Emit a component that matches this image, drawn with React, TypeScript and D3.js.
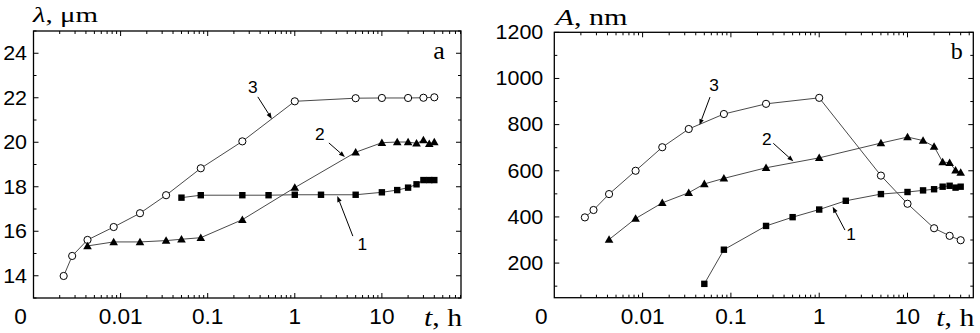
import React from "react";
import * as d3 from "d3";

// ---------- data ----------
const tCircle = [0.00222, 0.00278, 0.00417, 0.00833, 0.0167, 0.0333, 0.0833, 0.25, 1, 5, 10, 20, 30, 40];
const tTri = [0.00417, 0.00833, 0.0167, 0.0333, 0.05, 0.0833, 0.25, 1, 5, 10, 15, 20, 25, 30, 35, 40];
const tSq = [0.05, 0.0833, 0.25, 0.5, 1, 2, 5, 10, 15, 20, 25, 30, 35, 40];

const lambda3 = [13.99, 14.89, 15.61, 16.19, 16.81, 17.62, 18.83, 20.04, 21.84, 21.98, 21.99, 21.99, 22.0, 22.02];
const lambda2 = [15.34, 15.52, 15.52, 15.58, 15.64, 15.71, 16.52, 17.96, 19.55, 19.98, 20.01, 20.01, 19.95, 20.1, 19.93, 20.01];
const lambda1 = [17.51, 17.62, 17.62, 17.62, 17.64, 17.64, 17.64, 17.75, 17.85, 17.96, 18.11, 18.3, 18.3, 18.3];

const amp3 = [398, 430, 499, 600, 702, 781, 846, 890, 916, 579, 457, 351, 318, 299];
const amp2 = [302, 393, 461, 505, 543, 567, 613, 656, 720, 746, 731, 705, 638, 635, 602, 592];
const amp1 = [110, 258, 361, 399, 432, 470, 499, 508, 515, 520, 531, 535, 527, 531];

const xMajorTicks = [0.01, 0.1, 1, 10];
const xMajorLabels = ["0.01", "0.1", "1", "10"];
const lambdaTicks = [14, 16, 18, 20, 22, 24];
const lambdaMinor = [13, 15, 17, 19, 21, 23, 25];
const ampTicks = [200, 400, 600, 800, 1000, 1200];
const ampMinor = [100, 300, 500, 700, 900, 1100];

// annotation anchors on the curves (data coords)
const lambdaNotes = [
  { label: "3", t: 0.545, v: 21.05 },
  { label: "2", t: 3.76, v: 19.34 },
  { label: "1", t: 3.08, v: 17.58 },
];
const ampNotes = [
  { label: "3", t: 0.0441, v: 798 },
  { label: "2", t: 0.509, v: 641 },
  { label: "1", t: 1.42, v: 444 },
];

// ---------- styling ----------
const SANS = "'Liberation Sans', Arial, Helvetica, sans-serif";
const SERIF = "'Liberation Serif', 'Times New Roman', serif";
const LINE = "#4a4a4a";

type Series = { t: number[]; v: number[]; marker: "circle" | "tri" | "sq" };
type Note = { label: string; t: number; v: number };
type Off = { text: [number, number]; tail: [number, number] };

function Marker({ x, y, kind }: { x: number; y: number; kind: string }) {
  if (kind === "circle")
    return <circle cx={x} cy={y} r={3.6} fill="#fff" stroke="#000" strokeWidth={1} />;
  if (kind === "sq") return <rect x={x - 3.2} y={y - 3.2} width={6.4} height={6.4} fill="#000" />;
  const s = 4.3;
  return <path d={`M${x},${y - s}L${x + s},${y + s * 0.75}L${x - s},${y + s * 0.75}Z`} fill="#000" />;
}

function SText(props: {
  x: number; y: number; sx?: number; size: number; family: string; anchor?: string; children: any;
}) {
  const { x, y, sx = 1, size, family, anchor = "start", children } = props;
  return (
    <text
      transform={`translate(${x},${y}) scale(${sx},1)`}
      fontSize={size}
      fontFamily={family}
      textAnchor={anchor as any}
      fill="#000"
    >
      {children}
    </text>
  );
}

function Panel(props: {
  left: number; right: number; top: number; bottom: number;
  xMax: number; yDomain: [number, number];
  yTicks: number[]; yMinor: number[]; yLabelGap: number;
  series: Series[]; notes: Note[]; offsets: Off[];
  title: any; titleLen: number; titleSize: number; titleX: number; titleY: number;
  letter: string; letterX: number; letterSize: number;
}) {
  const p = props;
  const x = d3.scaleLog().domain([0.001, p.xMax]).range([p.left, p.right]);
  const y = d3.scaleLinear().domain(p.yDomain).range([p.bottom, p.top]);
  const minorX: number[] = [];
  for (let e = -3; e <= 2; e++)
    for (let m = 2; m <= 9; m++) {
      const v = m * Math.pow(10, e);
      if (v < p.xMax) minorX.push(v);
    }
  const line = d3
    .line<[number, number]>()
    .x((d) => x(d[0]))
    .y((d) => y(d[1]));
  const MAJ = 5, MIN = 3;
  return (
    <g>
      {p.series.map((s, i) => (
        <path
          key={"l" + i}
          d={line(s.t.map((t, j) => [t, s.v[j]] as [number, number])) || ""}
          fill="none"
          stroke={LINE}
          strokeWidth={1}
        />
      ))}
      {p.series.map((s, i) =>
        s.t.map((t, j) => <Marker key={`m${i}-${j}`} x={x(t)} y={y(s.v[j])} kind={s.marker} />)
      )}
      <rect
        x={p.left}
        y={p.top}
        width={p.right - p.left}
        height={p.bottom - p.top}
        fill="none"
        stroke="#000"
        strokeWidth={1.3}
      />
      {xMajorTicks.map((t) => (
        <g key={"xt" + t}>
          <line x1={x(t)} x2={x(t)} y1={p.bottom} y2={p.bottom - MAJ} stroke="#000" />
          <line x1={x(t)} x2={x(t)} y1={p.top} y2={p.top + MAJ} stroke="#000" />
        </g>
      ))}
      {minorX.map((t) => (
        <g key={"xm" + t}>
          <line x1={x(t)} x2={x(t)} y1={p.bottom} y2={p.bottom - MIN} stroke="#000" />
          <line x1={x(t)} x2={x(t)} y1={p.top} y2={p.top + MIN} stroke="#000" />
        </g>
      ))}
      {p.yTicks.map((v) => (
        <g key={"yt" + v}>
          <line x1={p.left} x2={p.left + MAJ} y1={y(v)} y2={y(v)} stroke="#000" />
          <line x1={p.right} x2={p.right - MAJ} y1={y(v)} y2={y(v)} stroke="#000" />
        </g>
      ))}
      {p.yMinor.map((v) => (
        <g key={"ym" + v}>
          <line x1={p.left} x2={p.left + MIN} y1={y(v)} y2={y(v)} stroke="#000" />
          <line x1={p.right} x2={p.right - MIN} y1={y(v)} y2={y(v)} stroke="#000" />
        </g>
      ))}
      {p.yTicks.map((v) => (
        <SText key={"yl" + v} x={p.left - p.yLabelGap} y={y(v) + 6.8} sx={1.1} size={19.5} family={SANS} anchor="end">
          {String(v)}
        </SText>
      ))}
      <SText x={x(0.001) - 13} y={324} sx={1.05} size={21.5} family={SANS} anchor="middle">
        0
      </SText>
      {xMajorTicks.map((t, i) => (
        <SText key={"xl" + t} x={x(t)} y={324} sx={1.05} size={21.5} family={SANS} anchor="middle">
          {xMajorLabels[i]}
        </SText>
      ))}
      <text
        x={p.right + 1}
        y={326}
        fontSize={26}
        fontFamily={SERIF}
        textAnchor="end"
        textLength={38}
        lengthAdjust="spacingAndGlyphs"
      >
        <tspan fontStyle="italic">t</tspan>, h
      </text>
      <text
        x={p.titleX}
        y={p.titleY}
        fontSize={p.titleSize}
        fontFamily={SERIF}
        textLength={p.titleLen}
        lengthAdjust="spacingAndGlyphs"
      >
        {p.title}
      </text>
      <SText x={p.letterX} y={58.5} size={p.letterSize} family={SERIF} anchor="middle">
        {p.letter}
      </SText>
      {p.notes.map((n, i) => {
        const tx = x(n.t), ty = y(n.v);
        const o = p.offsets[i];
        const sx0 = tx + o.tail[0], sy0 = ty + o.tail[1];
        const ang = Math.atan2(ty - sy0, tx - sx0);
        const L = 6, W = 2.3;
        const bx = tx - L * Math.cos(ang), by = ty - L * Math.sin(ang);
        const px = -Math.sin(ang) * W, py = Math.cos(ang) * W;
        return (
          <g key={"n" + i}>
            <line x1={sx0} y1={sy0} x2={bx} y2={by} stroke="#000" strokeWidth={1} />
            <path d={`M${tx},${ty}L${bx + px},${by + py}L${bx - px},${by - py}Z`} fill="#000" />
            <SText x={tx + o.text[0]} y={ty + o.text[1]} sx={1.05} size={16.5} family={SANS} anchor="middle">
              {n.label}
            </SText>
          </g>
        );
      })}
    </g>
  );
}

export default function App() {
  const lambdaSeries: Series[] = [
    { t: tCircle, v: lambda3, marker: "circle" },
    { t: tTri, v: lambda2, marker: "tri" },
    { t: tSq, v: lambda1, marker: "sq" },
  ];
  const ampSeries: Series[] = [
    { t: tCircle, v: amp3, marker: "circle" },
    { t: tTri, v: amp2, marker: "tri" },
    { t: tSq, v: amp1, marker: "sq" },
  ];
  const lambdaOff: Off[] = [
    { text: [-19, -26], tail: [-14, -22] },
    { text: [-25, -16.5], tail: [-16, -14] },
    { text: [25, 53.5], tail: [15.5, 40] },
  ];
  const ampOff: Off[] = [
    { text: [14.5, -34], tail: [10.5, -28] },
    { text: [-26.6, -16], tail: [-20, -18] },
    { text: [18.3, 33.5], tail: [12.3, 23.3] },
  ];
  return (
    <svg
      width={980}
      height={333}
      style={{ position: "absolute", left: 0, top: 0, background: "#fff" }}
    >
      <rect width={980} height={333} fill="#fff" />
      <Panel
        left={33.5}
        right={461}
        top={31}
        bottom={298}
        xMax={81}
        yDomain={[13, 25]}
        yTicks={lambdaTicks}
        yMinor={lambdaMinor}
        yLabelGap={6.5}
        series={lambdaSeries}
        notes={lambdaNotes}
        offsets={lambdaOff}
        title={
          <>
            <tspan fontStyle="italic">λ</tspan>, μm
          </>
        }
        titleLen={65}
        titleSize={21}
        titleX={33}
        titleY={21.5}
        letter="a"
        letterX={439}
        letterSize={26}
      />
      <Panel
        left={554.3}
        right={973.3}
        top={32.3}
        bottom={297.7}
        xMax={55.6}
        yDomain={[50, 1200]}
        yTicks={ampTicks}
        yMinor={ampMinor}
        yLabelGap={11}
        series={ampSeries}
        notes={ampNotes}
        offsets={ampOff}
        title={
          <>
            <tspan fontStyle="italic">A</tspan>, nm
          </>
        }
        titleLen={72}
        titleSize={23}
        titleX={555.5}
        titleY={25}
        letter="b"
        letterX={956.7}
        letterSize={24}
      />
    </svg>
  );
}
